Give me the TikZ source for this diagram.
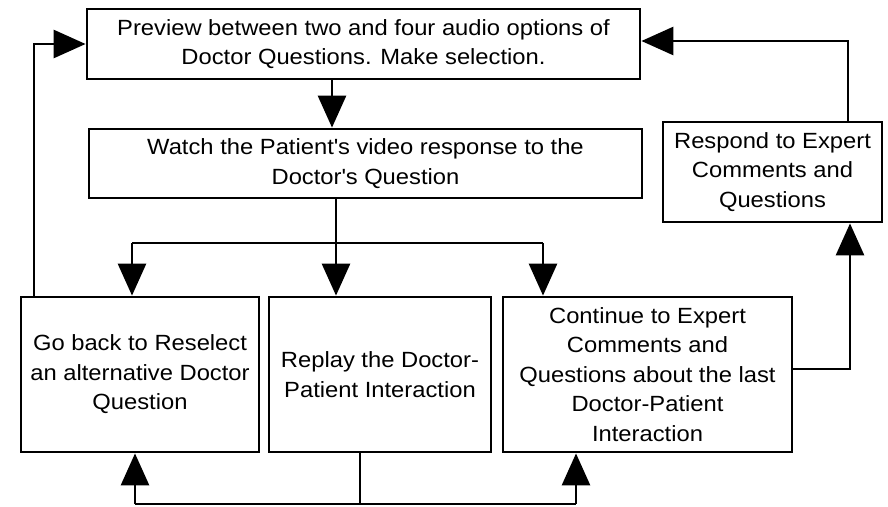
\documentclass[tikz,border=0pt]{standalone}
\usepackage{fontspec}
\setmainfont{Liberation Sans}[FakeStretch=1.08]
\usetikzlibrary{arrows.meta}
\tikzset{
  boxnode/.style={draw, line width=2.8pt, rectangle, inner sep=0pt, align=center,
    font=\fontsize{22}{29.5}\selectfont},
  arr/.style={line width=2.8pt, -{Triangle[length=32pt,width=28pt]}},
  ln/.style={line width=2.8pt}
}
\newcommand{\apos}{\textquotesingle}
\begin{document}
\begin{tikzpicture}[x=1pt,y=-1pt]
\useasboundingbox (0,0) rectangle (888,506);
\node[boxnode, minimum width=553pt, minimum height=70pt] (top) at (363.5,44)
  {Preview between two and four audio options of\\Doctor Questions. Make selection.};
\node[boxnode, minimum width=553pt, minimum height=69pt] (watch) at (365.5,163.5)
  {Watch the Patient\apos s video response to the\\Doctor\apos s Question};
\node[boxnode, minimum width=219pt, minimum height=100pt] (resp) at (772.5,172)
  {Respond to Expert\\Comments and\\Questions};
\node[boxnode, minimum width=238pt, minimum height=155pt] (left) at (140,374.5)
  {Go back to Reselect\\an alternative Doctor\\Question};
\node[boxnode, minimum width=222pt, minimum height=155pt] (mid) at (380,374.5)
  {Replay the Doctor-\\Patient Interaction};
\node[boxnode, minimum width=289pt, minimum height=155pt] (right) at (647.5,374.5)
  {Continue to Expert\\Comments and\\Questions about the last\\Doctor-Patient\\Interaction};
\coordinate (split) at (336,243);
\coordinate (sl) at (132,243);
\coordinate (sr) at (543,243);
\coordinate (bot) at (360,504);
\coordinate (bl) at (135,504);
\coordinate (br) at (576,504);
\coordinate (lu) at (34,44);
\coordinate (rr) at (850,369);
\coordinate (ru) at (848,41);
% top -> watch
\draw[arr] (top.south -| 332,0) -- (watch.north -| 332,0);
% watch -> three
\draw[ln] (watch.south -| split) -- (split);
\draw[ln] (sl) -- (sr);
\draw[arr] (sl) -- (left.north -| sl);
\draw[arr] (split) -- (mid.north -| split);
\draw[arr] (sr) -- (right.north -| sr);
% mid -> left, right
\draw[ln] (mid.south -| bot) -- (bot);
\draw[ln] (bl) -- (br);
\draw[arr] (bl) -- (left.south -| bl);
\draw[arr] (br) -- (right.south -| br);
% left -> top
\draw[arr] (left.north -| lu) -- (lu) -- (top.west |- lu);
% right -> resp
\draw[arr] (right.east |- rr) -- (rr) -- (resp.south -| rr);
% resp -> top
\draw[arr] (resp.north -| ru) -- (ru) -- (top.east |- ru);
\end{tikzpicture}
\end{document}
